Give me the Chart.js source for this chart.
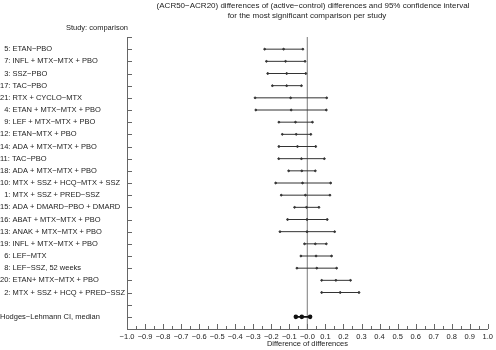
<!DOCTYPE html>
<html>
<head>
<meta charset="utf-8">
<script src="https://cdn.jsdelivr.net/npm/chart.js@4"></script>
<style>
  html, body { margin: 0; padding: 0; background: #fff; }
</style>
</head>
<body>
<canvas id="chart" width="496" height="350"></canvas>
<script>
// studies, top to bottom
const studies = [
  '\u20075: ETAN−PBO',
  '\u20077: INFL + MTX−MTX + PBO',
  '\u20073: SSZ−PBO',
  '17: TAC−PBO',
  '21: RTX + CYCLO−MTX',
  '\u20074: ETAN + MTX−MTX + PBO',
  '\u20079: LEF + MTX−MTX + PBO',
  '12: ETAN−MTX + PBO',
  '14: ADA + MTX−MTX + PBO',
  '11: TAC−PBO',
  '18: ADA + MTX−MTX + PBO',
  '10: MTX + SSZ + HCQ−MTX + SSZ',
  '\u20071: MTX + SSZ + PRED−SSZ',
  '15: ADA + DMARD−PBO + DMARD',
  '16: ABAT + MTX−MTX + PBO',
  '13: ANAK + MTX−MTX + PBO',
  '19: INFL + MTX−MTX + PBO',
  '\u20076: LEF−MTX',
  '\u20078: LEF−SSZ, 52 weeks',
  '20: ETAN+ MTX−MTX + PBO',
  '\u20072: MTX + SSZ + HCQ + PRED−SSZ'
];
const lower  = [-0.237, -0.227, -0.220, -0.194, -0.290, -0.286, -0.158, -0.139, -0.158, -0.159, -0.104,
                -0.176, -0.145, -0.071, -0.110, -0.152, -0.016, -0.036, -0.058, 0.079, 0.079];
const median = [-0.132, -0.121, -0.115, -0.115, -0.093, -0.090, -0.066, -0.062, -0.055, -0.033, -0.031,
                -0.027, -0.011, -0.005, -0.002, -0.002, 0.044, 0.048, 0.052, 0.158, 0.182];
const upper  = [-0.025, -0.013, -0.009, -0.033, 0.107, 0.105, 0.028, 0.019, 0.046, 0.094, 0.044,
                0.129, 0.125, 0.064, 0.110, 0.151, 0.105, 0.134, 0.162, 0.239, 0.286];

// pooled estimate
const summaryLabel = 'Hodges−Lehmann CI, median';
const summary = [-0.064, -0.031, 0.015];

const xTickLabels = ['−1.0', '−0.9', '−0.8', '−0.7', '−0.6', '−0.5', '−0.4', '−0.3', '−0.2', '−0.1', '−0.0',
                     '0.1', '0.2', '0.3', '0.4', '0.5', '0.6', '0.7', '0.8', '0.9', '1.0'];
const titleLines = ['(ACR50−ACR20) differences of (active−control) differences and 95% confidence interval',
                    'for the most significant comparison per study'];
const yTitle = 'Study: comparison';
const xTitle = 'Difference of differences';

// row 0 and 22 are empty, studies on 1..21, summary on 23
const yLabels = [''].concat(studies, ['', summaryLabel]);
const summaryRow = 23;

const FONT = 'Liberation Sans';
const TEXT = '#222';

const datasets = studies.map((s, i) => ({
  data: [{x: lower[i], y: i + 1}, {x: median[i], y: i + 1}, {x: upper[i], y: i + 1}],
  borderColor: '#333',
  backgroundColor: '#333',
  borderWidth: 1,
  pointRadius: 0.9,
  showLine: true
}));

datasets.push({
  data: summary.map(v => ({x: v, y: summaryRow})),
  borderColor: '#111',
  backgroundColor: '#111',
  borderWidth: 1.8,
  pointRadius: 1.4,
  showLine: true
});

// zero reference line
datasets.push({
  data: [{x: 0, y: 0}, {x: 0, y: 24}],
  borderColor: '#999',
  borderWidth: 1,
  pointRadius: 0,
  showLine: true,
  order: 10
});

// inward tick marks + title texts
const extras = {
  id: 'extras',
  afterDraw(chart) {
    const {ctx, chartArea, scales: {x, y}} = chart;
    ctx.save();
    ctx.strokeStyle = '#666';
    ctx.lineWidth = 1;
    ctx.beginPath();
    for (let k = -20; k <= 20; k++) {
      const px = Math.round(x.getPixelForValue(k / 20)) + 0.5;
      const len = k % 2 === 0 ? 5 : 3;
      ctx.moveTo(px, chartArea.bottom);
      ctx.lineTo(px, chartArea.bottom - len);
    }
    for (let r = 0; r < 24; r++) {
      const py = Math.round(y.getPixelForValue(r)) + 0.5;
      ctx.moveTo(chartArea.left, py);
      ctx.lineTo(chartArea.left + 5, py);
    }
    ctx.stroke();

    ctx.fillStyle = TEXT;
    ctx.font = '8px "' + FONT + '"';
    ctx.textBaseline = 'middle';
    ctx.textAlign = 'center';
    ctx.fillText(titleLines[0], 313, 5.5);
    ctx.fillText(titleLines[1], 307, 16);
    ctx.font = '7.5px "' + FONT + '"';
    ctx.textAlign = 'right';
    ctx.fillText(yTitle, 128, 28);
    ctx.restore();
  }
};

new Chart(document.getElementById('chart'), {
  type: 'scatter',
  data: {datasets},
  options: {
    responsive: false,
    devicePixelRatio: 1,
    animation: false,
    layout: {padding: {top: 37, right: 6, left: 0, bottom: 0}},
    plugins: {
      legend: {display: false},
      tooltip: {enabled: false}
    },
    scales: {
      x: {
        min: -1,
        max: 1,
        grid: {display: false, drawTicks: false},
        border: {display: true, color: '#666', width: 1},
        ticks: {
          stepSize: 0.1,
          autoSkip: false,
          maxRotation: 0,
          padding: 3,
          color: TEXT,
          font: {family: FONT, size: 7.5},
          callback: (v, i) => xTickLabels[i]
        },
        title: {
          display: true,
          text: xTitle,
          color: TEXT,
          font: {family: FONT, size: 7.5},
          padding: {top: 0, bottom: 2}
        },
        afterFit: s => { s.height = 21; }
      },
      y: {
        min: 0,
        max: 24,
        reverse: true,
        grid: {display: false, drawTicks: false},
        border: {display: true, color: '#666', width: 1},
        ticks: {
          stepSize: 1,
          autoSkip: false,
          crossAlign: 'far',
          color: TEXT,
          font: {family: FONT, size: 7.5},
          callback: v => yLabels[v] || ''
        },
        afterFit: s => { s.width = 127; }
      }
    }
  },
  plugins: [extras]
});
</script>
</body>
</html>
